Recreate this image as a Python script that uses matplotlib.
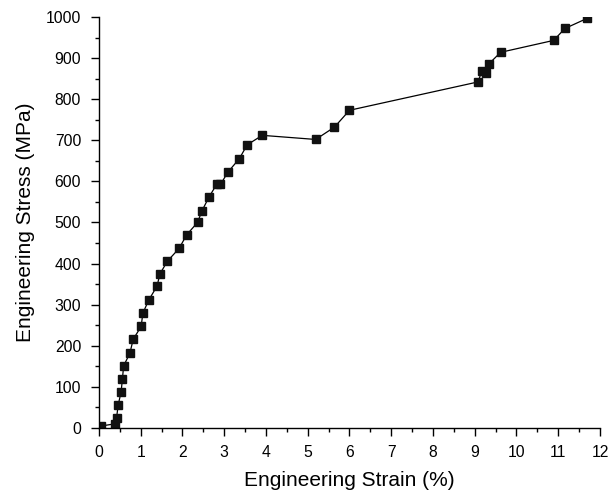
import numpy as np
import matplotlib
matplotlib.use('Agg')
import matplotlib.pyplot as plt
from matplotlib.ticker import MultipleLocator

plt.rcParams['font.family'] = ['Liberation Sans', 'DejaVu Sans']

# strain (%) and stress (MPa)
strain = [0.06, 0.38, 0.42, 0.46, 0.53, 0.56, 0.59, 0.74, 0.82, 1.01, 1.05,
          1.19, 1.39, 1.46, 1.64, 1.92, 2.10, 2.36, 2.47, 2.63, 2.82, 2.91,
          3.10, 3.36, 3.55, 3.91, 5.19, 5.64, 6.00, 9.08, 9.17, 9.26, 9.34,
          9.62, 10.89, 11.16, 11.70]
stress = [5, 10, 24, 56, 88, 118, 151, 182, 216, 247, 279,
          311, 345, 375, 406, 437, 470, 500, 529, 561, 593, 593,
          624, 655, 689, 712, 702, 732, 773, 842, 869, 863, 886,
          914, 943, 972, 997]

fig = plt.figure(figsize=(6.16, 4.95), dpi=100)
ax = fig.add_axes([0.1607, 0.1354, 0.8133, 0.8303])

ax.plot(strain, stress, color='black', lw=0.9, marker='s', markersize=5.8,
        markerfacecolor='#111111', markeredgecolor='#111111')

ax.set_xlim(0, 12)
ax.set_ylim(0, 1000)
ax.xaxis.set_major_locator(MultipleLocator(1))
ax.xaxis.set_minor_locator(MultipleLocator(0.5))
ax.yaxis.set_major_locator(MultipleLocator(100))
ax.yaxis.set_minor_locator(MultipleLocator(50))

for s in ['top', 'right']:
    ax.spines[s].set_visible(False)
for s in ['left', 'bottom']:
    ax.spines[s].set_linewidth(1.0)

ax.tick_params(which='major', direction='out', length=5.8, width=1.0,
               labelsize=11.3)
ax.tick_params(axis='x', which='major', pad=6.5)
ax.tick_params(axis='y', which='major', pad=7)
ax.tick_params(which='minor', direction='out', length=3.2, width=1.0)

ax.set_xlabel('Engineering Strain (%)', fontsize=15, labelpad=8)
ax.set_ylabel('Engineering Stress (MPa)', fontsize=15, labelpad=8)

fig.savefig('out.png', dpi=100)
